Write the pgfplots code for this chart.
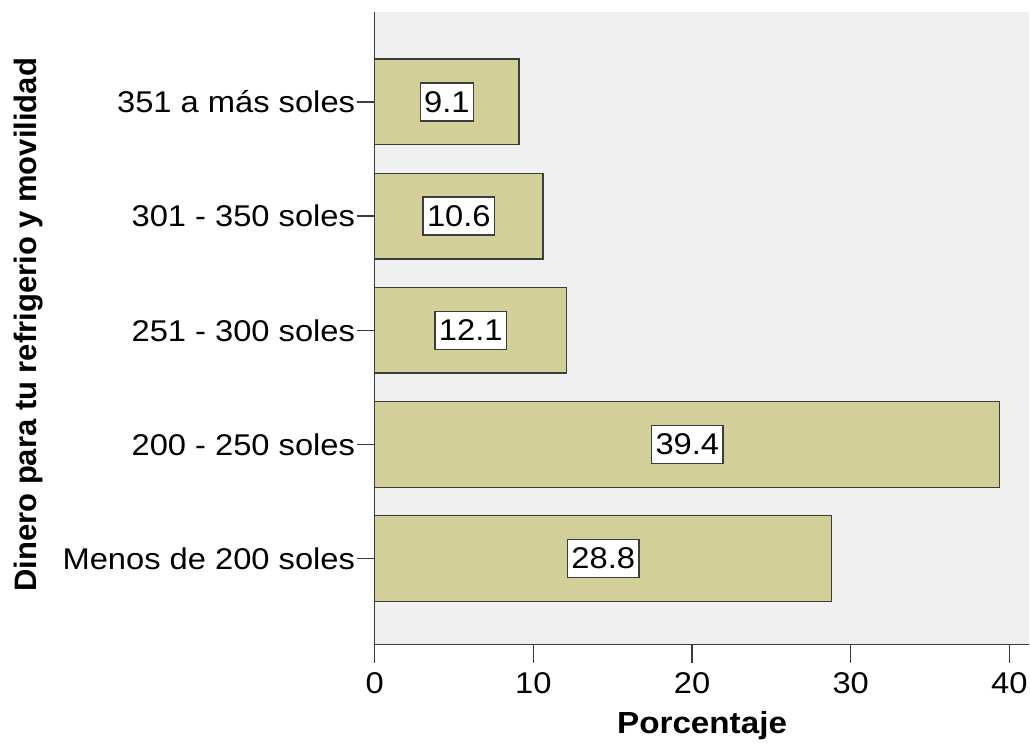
\documentclass[border=0pt]{standalone}
\usepackage{fontspec}
\setmainfont{Liberation Sans}[FakeStretch=1.09]
\newfontfamily\ylabfont{Liberation Sans}
\usepackage{pgfplots}
\usepackage{pgfplotstable}
\pgfplotsset{compat=1.18}
\definecolor{barfill}{RGB}{211,207,153}
\definecolor{bggray}{RGB}{240,240,240}
\definecolor{edgegray}{RGB}{60,60,60}

\pgfplotstableread{
pos v
0 28.8
1 39.4
2 12.1
3 10.6
4 9.1
}\datatable

\begin{document}
\begin{tikzpicture}
\path (0,0) rectangle (1030pt,742pt);
\begin{axis}[
  at={(375pt,97pt)}, anchor=south west,
  scale only axis, width=655pt, height=633pt,
  xmin=0, xmax=41.26, ymin=-0.753, ymax=4.788,
  axis x line*=bottom, axis y line*=left,
  xtick align=outside, ytick align=outside,
  major tick length=18pt,
  axis line style={edgegray, line width=1.3pt},
  axis background/.style={fill=bggray},
  xtick={0,10,20,30,40},
  ytick={0,1,2,3,4},
  yticklabels={Menos de 200 soles,200 - 250 soles,251 - 300 soles,301 - 350 soles,351 a más soles},
  tick style={edgegray, line width=1.3pt},
  ticklabel style={font=\fontsize{30}{36}\selectfont, text=black},
  /pgf/number format/assume math mode=true,
  y tick label style={inner sep=1.5pt},
  x tick label style={inner sep=0pt, yshift=-10pt},
  xlabel={\fontsize{30.5}{36}\selectfont\bfseries Porcentaje},
  xlabel style={at={(axis description cs:0.5,-0.1406)}, anchor=base},
  ylabel={\ylabfont\fontsize{31}{36}\selectfont\bfseries Dinero para tu refrigerio y movilidad},
  ylabel style={at={(axis description cs:-0.516,0.5055)}, anchor=base, rotate=0},
  clip=false,
]
\addplot[xbar, bar width=0.75, bar shift=0pt, fill=barfill, draw=edgegray, line width=1.3pt]
  table[x=v, y=pos] {\datatable};
\addplot[draw=none, mark=none, nodes near coords, point meta=explicit symbolic,
  every node near coord/.append style={anchor=center, fill=white, draw=edgegray, line width=1.3pt,
    font=\fontsize{30}{36}\selectfont, inner xsep=4pt, inner ysep=0pt, minimum height=38pt, text=black}]
  table[x expr=\thisrow{v}/2, y=pos, meta=v] {\datatable};
\end{axis}
\end{tikzpicture}
\end{document}
